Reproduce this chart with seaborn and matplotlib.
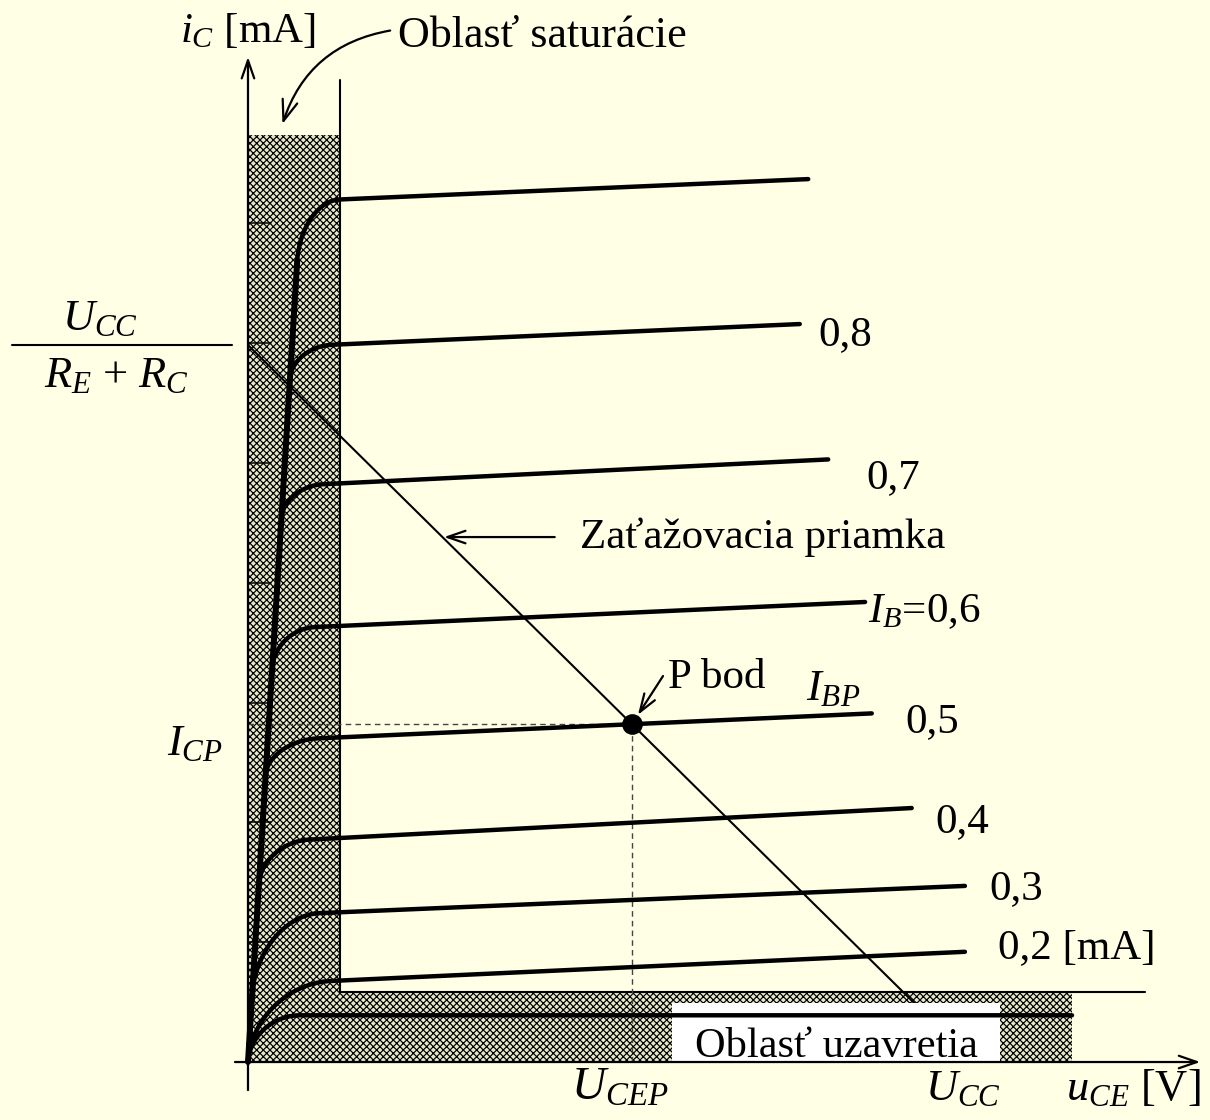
import numpy as np
import pandas as pd
import matplotlib
matplotlib.use("Agg")
import matplotlib.pyplot as plt
from matplotlib.patches import Rectangle
import seaborn as sns

# ---------------------------------------------------------------
# Output characteristics of a bipolar transistor, i_C [mA] vs u_CE [V]
# ---------------------------------------------------------------
# base-current labels of the characteristics (top one is unlabeled)
ib_labels = ["", "0,8", "0,7", "$I_B$=0,6", "0,5", "0,4", "0,3", "0,2 [mA]", ""]
# collector current where each flat part starts (at u_CE = U_KNEE)
ic_knee = [7.20, 5.99, 4.83, 3.64, 2.71, 1.87, 1.25, 0.68, 0.39]
# end point of every characteristic
uce_end = [9.26, 9.12, 9.59, 10.20, 10.31, 10.97, 11.85, 11.85, 13.62]
ic_end = [7.37, 6.16, 5.03, 3.84, 2.91, 2.12, 1.47, 0.92, 0.39]
# extent of the rounded knee (below and to the right of the corner)
knee_di = [0.50, 0.27, 0.27, 0.33, 0.29, 0.35, 0.67, 0.68, 0.39]
knee_du = [0.64, 0.66, 0.66, 0.66, 0.84, 0.79, 1.04, 1.29, 0.81]
U_KNEE = 1.52

# label anchor points of the characteristics
label_u = [None, 9.42, 10.22, 10.25, 10.86, 11.36, 12.26, 12.40, None]
label_i = [None, 5.985, 4.79, 3.67, 2.755, 1.92, 1.36, 0.87, None]

# saturation boundary slope (mA per V)
sat_u = [0.0, 0.83]
sat_i = [0.0, 6.82]

# load line: U_CC and U_CC / (R_E + R_C)
U_CC = 12.0
I_MAX = 5.985
load_u = [0.0, U_CC]
load_i = [I_MAX, 0.0]

# regions
sat_region = dict(u0=0.0, u1=1.52, i0=0.0, i1=7.74)
cut_region = dict(u0=1.52, u1=13.62, i0=0.0, i1=0.584)
cut_line_end = 14.83
sat_line_top = 8.20
y_ticks = [1, 2, 3, 4, 5, 6, 7]

BG = "#FFFFE6"
HATCH_BG = "#E6E8C8"

sns.set_theme(style="white", rc={
    "figure.facecolor": BG, "axes.facecolor": BG, "savefig.facecolor": BG,
    "text.color": "black",
})
plt.rcParams["font.family"] = ["Liberation Serif", "DejaVu Serif"]
plt.rcParams["mathtext.fontset"] = "custom"
plt.rcParams["mathtext.rm"] = "Liberation Serif"
plt.rcParams["mathtext.it"] = "Liberation Serif:italic"
plt.rcParams["mathtext.bf"] = "Liberation Serif:bold"
plt.rcParams["hatch.linewidth"] = 0.85

fig = plt.figure(figsize=(12.1, 11.2), dpi=100)
ax = fig.add_axes([0, 0, 1, 1])
ax.set_xlim(-4.099, 15.901)
ax.set_ylim(-0.484, 8.865)
ax.axis("off")

FS = 31

# ---- hatched regions ----
for reg in (sat_region, cut_region):
    ax.add_patch(Rectangle((reg["u0"], reg["i0"]), reg["u1"] - reg["u0"],
                           reg["i1"] - reg["i0"], facecolor=HATCH_BG,
                           edgecolor="black", hatch="xxxxx", linewidth=0,
                           zorder=1))
# region borders
ax.plot([sat_region["u1"], sat_region["u1"]], [cut_region["i1"], sat_line_top],
        color="black", lw=1.5, zorder=2)
ax.plot([cut_region["u0"], cut_line_end], [cut_region["i1"], cut_region["i1"]],
        color="black", lw=1.5, zorder=2)

# ---- axis ticks on i_C ----
for t in y_ticks:
    ax.plot([0, 0.38], [t, t], color="black", lw=1.1, zorder=2)

# ---- load line ----
sns.lineplot(x=load_u, y=load_i, color="black", lw=1.5, ax=ax, zorder=2)

# ---- characteristics ----
k = sat_i[1] / sat_u[1]
rows = []
top_peel = None
for j in range(len(ic_knee)):
    m = (ic_end[j] - ic_knee[j]) / (uce_end[j] - U_KNEE)
    flat = lambda u, j=j, m=m: ic_knee[j] + (u - U_KNEE) * m
    uc = (ic_knee[j] - U_KNEE * m) / (k - m)
    ic = k * uc
    p0_i = max(0.0, ic - knee_di[j])
    p0 = np.array([p0_i / k, p0_i])
    c = np.array([uc, ic])
    p2 = np.array([uc + knee_du[j], flat(uc + knee_du[j])])
    c1 = p0 + 0.552 * (c - p0)
    c2 = p2 + 0.552 * (c - p2)
    t = np.linspace(0, 1, 60)[:, None]
    bez = ((1 - t) ** 3 * p0 + 3 * (1 - t) ** 2 * t * c1
           + 3 * (1 - t) * t ** 2 * c2 + t ** 3 * p2)
    us = [0.0] + list(bez[:, 0]) + [uce_end[j]]
    is_ = [0.0] + list(bez[:, 1]) + [ic_end[j]]
    for uu, ii in zip(us, is_):
        rows.append((j, uu, ii))
    if j == 0:
        top_peel = p0
curves = pd.DataFrame(rows, columns=["curve", "u", "i"])
sns.lineplot(data=curves, x="u", y="i", units="curve", estimator=None,
             sort=False, color="black", lw=3.2, ax=ax, zorder=4)

# saturation boundary drawn bold
sns.lineplot(x=[0.0, top_peel[0]], y=[0.0, top_peel[1]], color="black",
             lw=4.3, ax=ax, zorder=4)

# ---- cut-off label box ----
ax.add_patch(Rectangle((7.008, 0.0), 5.42, 0.4925, facecolor="white",
                       edgecolor="none", zorder=3))
ax.text(9.72, 0.042, "Oblasť uzavretia", fontsize=30.5, ha="center",
        va="baseline", zorder=5)

# ---- operating point P ----
j5 = 4
m5 = (ic_end[j5] - ic_knee[j5]) / (uce_end[j5] - U_KNEE)
b5 = ic_knee[j5] - U_KNEE * m5
load_m = (load_i[1] - load_i[0]) / (load_u[1] - load_u[0])
p_u = (b5 - load_i[0]) / (load_m - m5)
p_i = load_i[0] + load_m * p_u
ax.plot([0, p_u], [p_i, p_i], color="#444444", lw=1.0, ls=(0, (4, 3)), zorder=2)
ax.plot([p_u, p_u], [0, p_i], color="#444444", lw=1.0, ls=(0, (4, 3)), zorder=2)
sns.scatterplot(x=[p_u], y=[p_i], s=190, color="black", edgecolor="black",
                ax=ax, zorder=6)

# ---- axes with arrows ----
arrow_kw = dict(arrowstyle="->,head_length=1.3,head_width=0.45", lw=1.6,
                color="black", shrinkA=0, shrinkB=0, mutation_scale=10)
ax.annotate("", xy=(0, 8.39), xytext=(0, -0.234), arrowprops=arrow_kw, zorder=5)
ax.annotate("", xy=(15.74, 0), xytext=(-0.215, 0), arrowprops=arrow_kw, zorder=5)

# ---- texts ----
ax.text(0.0, 8.514, r"$i_C$ [mA]", fontsize=FS, ha="center", va="baseline")
ax.text(2.48, 8.47, "Oblasť saturácie", fontsize=31.8, ha="left", va="baseline")
ax.annotate("", xy=(0.57, 7.83), xytext=(2.35, 8.61),
            arrowprops=dict(arrowstyle="->,head_length=1.5,head_width=0.55",
                            lw=1.6, color="black", shrinkA=0, shrinkB=0,
                            mutation_scale=10,
                            connectionstyle="arc3,rad=0.3"))

ax.text(-2.45, 6.11, r"$U_{CC}$", fontsize=32, ha="center", va="baseline")
ax.plot([-3.90, -0.264], [I_MAX, I_MAX], color="black", lw=1.5)
ax.text(-2.18, 5.634, r"$R_E$ + $R_C$", fontsize=32, ha="center", va="baseline")

ax.text(-0.876, 2.563, r"$I_{CP}$", fontsize=32, ha="center", va="baseline")
ax.text(6.15, -0.317, r"$U_{CEP}$", fontsize=34, ha="center", va="baseline")
ax.text(11.82, -0.317, r"$U_{CC}$", fontsize=32, ha="center", va="baseline")
ax.text(14.63, -0.317, r"$u_{CE}$ [V]", fontsize=32, ha="center", va="baseline")

ax.text(5.49, 4.29, "Zaťažovacia priamka", fontsize=FS, ha="left", va="baseline")
ax.annotate("", xy=(3.24, 4.382), xytext=(5.07, 4.382),
            arrowprops=dict(arrowstyle="->,head_length=1.3,head_width=0.45",
                            lw=1.6, color="black", shrinkA=0, shrinkB=0,
                            mutation_scale=10))

ax.text(6.94, 3.122, "P bod", fontsize=FS, ha="left", va="baseline")
ax.annotate("", xy=(p_u, p_i), xytext=(6.86, 3.222),
            arrowprops=dict(arrowstyle="->,head_length=1.3,head_width=0.45",
                            lw=1.6, color="black", shrinkA=0, shrinkB=8,
                            mutation_scale=10))
ax.text(9.67, 3.02, r"$I_{BP}$", fontsize=32, ha="center", va="baseline")

for lab, lu, li in zip(ib_labels, label_u, label_i):
    if lab:
        ax.text(lu, li, lab, fontsize=FS, ha="left", va="baseline")

fig.savefig("out.png", dpi=100)
